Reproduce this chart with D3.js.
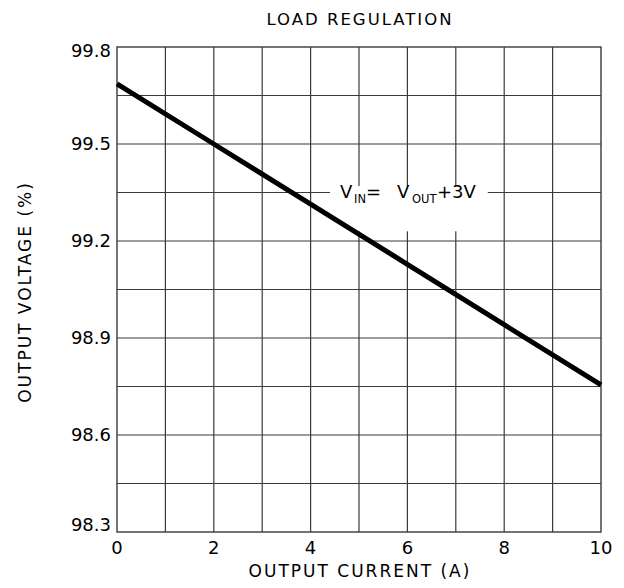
<!DOCTYPE html>
<html>
<head>
<meta charset="utf-8">
<script src="https://cdn.jsdelivr.net/npm/d3@7"></script>
<style>
  body { margin: 0; background: #fff; }
  text { font-family: "DejaVu Sans", sans-serif; fill: #000; }
</style>
</head>
<body>
<div id="chart"></div>
<script>
// data
let currents = [0, 2, 4, 6, 8, 10];
let voltages = [99.686, 99.5, 99.314, 99.128, 98.941, 98.755];

let xTicks = [0, 2, 4, 6, 8, 10];
let yTicks = [98.3, 98.6, 98.9, 99.2, 99.5, 99.8];
let xGrid = [1, 2, 3, 4, 5, 6, 7, 8, 9];
let yGrid = [98.45, 98.6, 98.75, 98.9, 99.05, 99.2, 99.35, 99.5, 99.65];

const width = 624, height = 588;
const margin = {left: 117, right: 23, top: 47, bottom: 56};

let svg = d3.select("#chart")
    .append("svg")
    .attr("width", width)
    .attr("height", height);

let x = d3.scaleLinear()
    .domain([0, 10])
    .range([margin.left, width - margin.right]);

let y = d3.scaleLinear()
    .domain([98.3, 99.8])
    .range([height - margin.bottom, margin.top]);

// grid
let grid = svg.append("g")
    .attr("stroke", "#3a3a3a")
    .attr("stroke-width", 1.2);

grid.selectAll(".vx").data(xGrid).enter()
    .append("line")
    .attr("x1", d => x(d)).attr("x2", d => x(d))
    .attr("y1", y(98.3)).attr("y2", y(99.8));

grid.selectAll(".hy").data(yGrid).enter()
    .append("line")
    .attr("x1", x(0)).attr("x2", x(10))
    .attr("y1", d => y(d)).attr("y2", d => y(d));

// frame
svg.append("rect")
    .attr("x", x(0))
    .attr("y", y(99.8))
    .attr("width", x(10) - x(0))
    .attr("height", y(98.3) - y(99.8))
    .attr("fill", "none")
    .attr("stroke", "#3a3a3a")
    .attr("stroke-width", 1.4);

// white box behind the annotation
svg.append("rect")
    .attr("x", x(4.4))
    .attr("y", y(99.37))
    .attr("width", x(7.66) - x(4.4))
    .attr("height", y(99.23) - y(99.37))
    .attr("fill", "#fff");

// curve
let line = d3.line()
    .x((d, i) => x(currents[i]))
    .y(d => y(d));

svg.append("path")
    .datum(voltages)
    .attr("d", line)
    .attr("fill", "none")
    .attr("stroke", "#000")
    .attr("stroke-width", 5);

// y tick labels
svg.selectAll(".ylab").data(yTicks).enter()
    .append("text")
    .attr("x", x(0) - 6)
    .attr("y", d => y(d))
    .attr("dy", (d, i) => i === 0 ? "-0.05em" : (i === yTicks.length - 1 ? "0.55em" : "0.36em"))
    .style("text-anchor", "end")
    .style("font-size", "18px")
    .text(d => d.toFixed(1));

// x tick labels
svg.selectAll(".xlab").data(xTicks).enter()
    .append("text")
    .attr("x", d => x(d))
    .attr("y", 554)
    .style("text-anchor", "middle")
    .style("font-size", "18px")
    .text(d => d);

// axis titles
svg.append("text")
    .attr("x", 360)
    .attr("y", 577)
    .style("text-anchor", "middle")
    .style("font-size", "17px")
    .style("letter-spacing", "2px")
    .text("OUTPUT CURRENT (A)");

svg.append("text")
    .attr("transform", `translate(31, 292) rotate(-90)`)
    .style("text-anchor", "middle")
    .style("font-size", "17px")
    .style("letter-spacing", "2px")
    .text("OUTPUT VOLTAGE (%)");

// chart title
svg.append("text")
    .attr("x", 360)
    .attr("y", 25)
    .style("text-anchor", "middle")
    .style("font-size", "16.5px")
    .style("letter-spacing", "2px")
    .text("LOAD REGULATION");

// annotation
let note = svg.append("text")
    .attr("y", 198)
    .style("font-size", "18px");
note.append("tspan").attr("x", 340).text("V");
note.append("tspan").attr("x", 354).attr("dy", 5).style("font-size", "11.5px").text("IN");
note.append("tspan").attr("x", 366).attr("dy", -5).text("=");
note.append("tspan").attr("x", 397).text("V");
note.append("tspan").attr("x", 412).attr("dy", 5).style("font-size", "11.5px").text("OUT");
note.append("tspan").attr("x", 437).attr("dy", -5).text("+3V");
</script>
</body>
</html>
